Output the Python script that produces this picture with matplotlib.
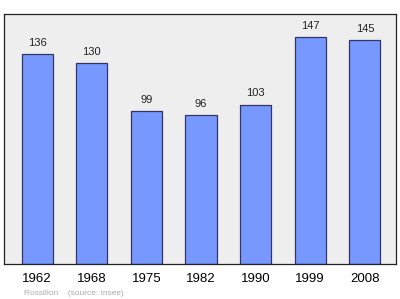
import matplotlib
matplotlib.use("Agg")
import matplotlib.pyplot as plt

years = ["1962", "1968", "1975", "1982", "1990", "1999", "2008"]
population = [136, 130, 99, 96, 103, 147, 145]

plt.rcParams['font.family'] = ['Liberation Sans', 'DejaVu Sans']

fig = plt.figure(figsize=(4.0, 2.99), dpi=100)
ax = fig.add_axes([0.011, 0.1187, 0.979, 0.834])
ax.set_facecolor('#eeeeee')
x = list(range(len(years)))
ax.bar(x, population, width=0.57, color='#7799ff', edgecolor='#333366', linewidth=0.9)
for xi, v in zip(x, population):
    ax.annotate(str(v), (xi, v), xytext=(0, 4.5), textcoords='offset points',
                ha='center', va='bottom', fontsize=8, color='#222222')
ax.set_xlim(-0.6, 6.57)
ax.set_ylim(0, max(population) * 1.1)
ax.set_xticks(x)
ax.set_xticklabels(years, fontsize=9.5)
ax.tick_params(axis='x', length=0, pad=7)
ax.set_yticks([])
for s in ax.spines.values():
    s.set_color('#222222')
    s.set_linewidth(0.9)
fig.text(0.06, 0.008, "Rossillon    (source: Insee)", fontsize=6, color='#aaaaaa', ha='left', va='bottom')
fig.savefig("out.png", dpi=100)
